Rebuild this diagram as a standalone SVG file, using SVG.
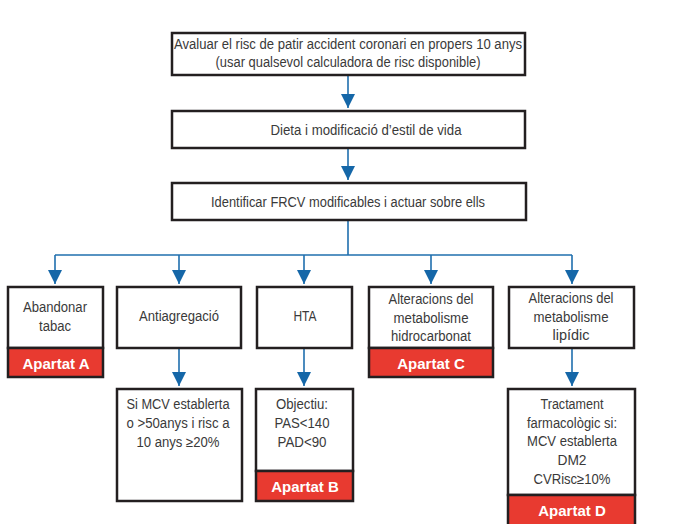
<svg xmlns="http://www.w3.org/2000/svg" width="678" height="524" viewBox="0 0 678 524">
<defs>
<style>
.box{fill:#fff;stroke:#231f20;stroke-width:2.5}
.red{fill:#e83a30;stroke:#231f20;stroke-width:2.5}
.t{font-family:"Liberation Sans","DejaVu Sans",sans-serif;font-size:14px;fill:#3a3a3a;text-anchor:middle;dominant-baseline:central}
.w{font-family:"Liberation Sans","DejaVu Sans",sans-serif;font-size:15px;font-weight:bold;fill:#fff;text-anchor:middle;dominant-baseline:central}
.c{fill:none;stroke:#1f6fae;stroke-width:1.6}
</style>
<marker id="ah" markerUnits="userSpaceOnUse" markerWidth="14" markerHeight="16" viewBox="0 0 14 16" refX="14" refY="7" orient="auto">
<path d="M0,0 L14,7 L0,14 Z" fill="#1567a8"/>
</marker>
</defs>
<g id="connectors">
<line class="c" x1="348" y1="75" x2="348" y2="108" marker-end="url(#ah)"/>
<line class="c" x1="348" y1="148" x2="348" y2="180" marker-end="url(#ah)"/>
<polyline class="c" points="348,220 348,255"/>
<polyline class="c" points="55,255 572,255"/>
<line class="c" x1="55" y1="255" x2="55" y2="284" marker-end="url(#ah)"/>
<line class="c" x1="179" y1="255" x2="179" y2="284" marker-end="url(#ah)"/>
<line class="c" x1="304" y1="255" x2="304" y2="284" marker-end="url(#ah)"/>
<line class="c" x1="431" y1="255" x2="431" y2="284" marker-end="url(#ah)"/>
<line class="c" x1="572" y1="255" x2="572" y2="284" marker-end="url(#ah)"/>
<line class="c" x1="179" y1="348" x2="179" y2="386" marker-end="url(#ah)"/>
<line class="c" x1="304" y1="348" x2="304" y2="386" marker-end="url(#ah)"/>
<line class="c" x1="572" y1="348" x2="572" y2="386" marker-end="url(#ah)"/>
</g>
<g id="n1">
<rect class="box" x="172" y="33" width="353" height="42"/>
<text class="t" x="348" y="44" textLength="348" lengthAdjust="spacingAndGlyphs">Avaluar el risc de patir accident coronari en propers 10 anys</text>
<text class="t" x="348" y="62" textLength="265" lengthAdjust="spacingAndGlyphs">(usar qualsevol calculadora de risc disponible)</text>
</g>
<g id="n2">
<rect class="box" x="172" y="111" width="353" height="37"/>
<text class="t" x="366" y="130" textLength="191" lengthAdjust="spacingAndGlyphs">Dieta i modificació d’estil de vida</text>
</g>
<g id="n3">
<rect class="box" x="172" y="183" width="354" height="37"/>
<text class="t" x="348" y="202" textLength="274" lengthAdjust="spacingAndGlyphs">Identificar FRCV modificables i actuar sobre ells</text>
</g>
<g id="nA">
<rect class="box" x="8" y="287" width="95" height="61"/>
<text class="t" x="55" y="307" textLength="64" lengthAdjust="spacingAndGlyphs">Abandonar</text>
<text class="t" x="55" y="326" textLength="32" lengthAdjust="spacingAndGlyphs">tabac</text>
<rect class="red" x="8" y="348" width="95" height="29"/>
<text class="w" x="56" y="363">Apartat A</text>
</g>
<g id="nAnti">
<rect class="box" x="117" y="287" width="124" height="61"/>
<text class="t" x="179" y="316" textLength="80" lengthAdjust="spacingAndGlyphs">Antiagregació</text>
</g>
<g id="nHTA">
<rect class="box" x="257" y="287" width="95" height="61"/>
<text class="t" x="305" y="316" textLength="23" lengthAdjust="spacingAndGlyphs">HTA</text>
</g>
<g id="nC">
<rect class="box" x="369" y="287" width="124" height="61"/>
<text class="t" x="431" y="299" textLength="85" lengthAdjust="spacingAndGlyphs">Alteracions del</text>
<text class="t" x="431" y="318" textLength="75" lengthAdjust="spacingAndGlyphs">metabolisme</text>
<text class="t" x="431" y="336" textLength="80" lengthAdjust="spacingAndGlyphs">hidrocarbonat</text>
<rect class="red" x="369" y="348" width="124" height="29"/>
<text class="w" x="431" y="363">Apartat C</text>
</g>
<g id="nLip">
<rect class="box" x="509" y="287" width="125" height="61"/>
<text class="t" x="571" y="298" textLength="85" lengthAdjust="spacingAndGlyphs">Alteracions del</text>
<text class="t" x="571" y="317" textLength="75" lengthAdjust="spacingAndGlyphs">metabolisme</text>
<text class="t" x="571" y="335" textLength="37" lengthAdjust="spacingAndGlyphs">lipídic</text>
</g>
<g id="nMCV">
<rect class="box" x="117" y="389" width="125" height="112"/>
<text class="t" x="178" y="404" textLength="103" lengthAdjust="spacingAndGlyphs">Si MCV establerta</text>
<text class="t" x="178" y="423" textLength="103" lengthAdjust="spacingAndGlyphs">o &gt;50anys i risc a</text>
<text class="t" x="178" y="442" textLength="83" lengthAdjust="spacingAndGlyphs">10 anys ≥20%</text>
</g>
<g id="nB">
<rect class="box" x="256" y="389" width="97" height="82"/>
<text class="t" x="302" y="404" textLength="52" lengthAdjust="spacingAndGlyphs">Objectiu:</text>
<text class="t" x="302" y="423" textLength="55" lengthAdjust="spacingAndGlyphs">PAS&lt;140</text>
<text class="t" x="302" y="442" textLength="49" lengthAdjust="spacingAndGlyphs">PAD&lt;90</text>
<rect class="red" x="256" y="471" width="97" height="30"/>
<text class="w" x="305" y="486">Apartat B</text>
</g>
<g id="nD">
<rect class="box" x="508" y="389" width="127" height="106"/>
<text class="t" x="572" y="404" textLength="63" lengthAdjust="spacingAndGlyphs">Tractament</text>
<text class="t" x="572" y="423" textLength="90" lengthAdjust="spacingAndGlyphs">farmacològic si:</text>
<text class="t" x="572" y="441" textLength="90" lengthAdjust="spacingAndGlyphs">MCV establerta</text>
<text class="t" x="572" y="460" textLength="29" lengthAdjust="spacingAndGlyphs">DM2</text>
<text class="t" x="572" y="479" textLength="77" lengthAdjust="spacingAndGlyphs">CVRisc≥10%</text>
<rect class="red" x="508" y="495" width="127" height="32"/>
<text class="w" x="572" y="510">Apartat D</text>
</g>
</svg>
